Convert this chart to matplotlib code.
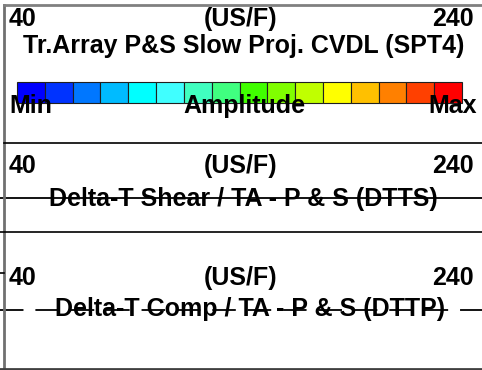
import matplotlib
matplotlib.use("Agg")
import matplotlib.pyplot as plt

# track header values
scale_left = 40
scale_right = 240
units = "(US/F)"
track_titles = [
    "Tr.Array P&S Slow Proj. CVDL (SPT4)",
    "Delta-T Shear / TA - P & S (DTTS)",
    "Delta-T Comp / TA - P & S (DTTP)",
]
amp_labels = ["Min", "Amplitude", "Max"]
amp_colors = [
    "#0000ff", "#0033ff", "#0077ff", "#00bbff",
    "#00ffff", "#40ffff", "#40ffc0", "#40ff80",
    "#40ff00", "#80ff00", "#c0ff00", "#ffff00",
    "#ffc000", "#ff8000", "#ff4000", "#ff0000",
]

W, H = 482, 370
plt.rcParams['font.family'] = ['Liberation Sans', 'DejaVu Sans']
fig = plt.figure(figsize=(W / 100, H / 100), dpi=100)
ax = fig.add_axes([0, 0, 1, 1])
ax.set_xlim(0, W)
ax.set_ylim(H, 0)
ax.axis('off')

fs = 18
txt = dict(fontsize=fs, fontweight='bold', color='black')

# frame of the header
ax.plot([4, 4], [5, H], color='#707070', lw=2)
ax.plot([4, W], [5, 5], color='#808080', lw=2)
ax.plot([0, W], [H - 1, H - 1], color='#404040', lw=2)
ax.plot([4, W], [143, 143], color='black', lw=1.2)
ax.plot([0, W], [232, 232], color='black', lw=1.2)
ax.plot([0, 4], [273, 273], color='black', lw=1.2)

# curve legend lines (behind titles)
ax.plot([0, W], [198, 198], color='black', lw=1.3, zorder=1)
ax.plot([0, W], [310, 310], color='black', lw=1.3, zorder=1,
        dashes=(13, 6.6))

# scale rows
for top in [26, 173, 285]:
    ax.text(9, top, str(scale_left), ha='left', va='baseline', **txt)
    ax.text(241, top, units, ha='center', va='baseline', **txt)
    ax.text(474, top, str(scale_right), ha='right', va='baseline', **txt)

ax.text(244, 53, track_titles[0], ha='center', va='baseline', **txt)
ax.text(243, 206, track_titles[1], ha='center', va='baseline', zorder=0, **txt)
ax.text(250, 316, track_titles[2], ha='center', va='baseline', zorder=0, **txt)

# amplitude colour bar
x0, x1 = 17, 462
cw = (x1 - x0) / len(amp_colors)
ax.bar([x0 + i * cw for i in range(len(amp_colors))], [21] * len(amp_colors),
       width=cw, bottom=82, align='edge', color=amp_colors,
       edgecolor='#202020', linewidth=0.8, zorder=2)

ax.text(9, 113, amp_labels[0], ha='left', va='baseline', zorder=3, **txt)
ax.text(244, 113, amp_labels[1], ha='center', va='baseline', zorder=3, **txt)
ax.text(477, 113, amp_labels[2], ha='right', va='baseline', zorder=3, **txt)

fig.savefig("out.png", dpi=100)
